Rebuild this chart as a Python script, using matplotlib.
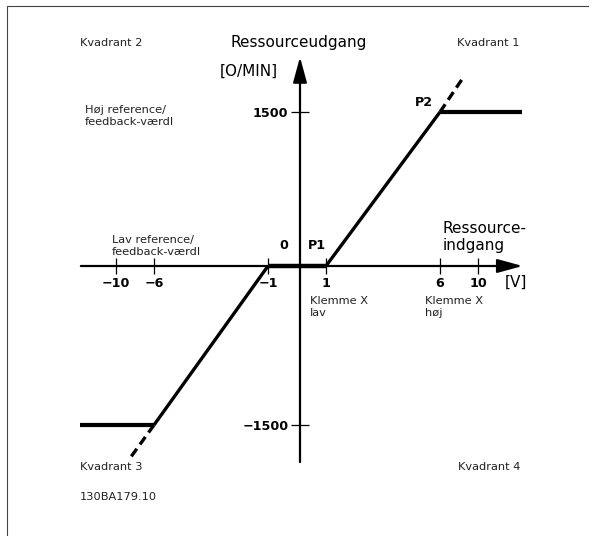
import numpy as np
import matplotlib

matplotlib.use("Agg")
import matplotlib.pyplot as plt
from matplotlib.lines import Line2D
from matplotlib.scale import FuncScale

# schematic (non-uniform) axes: value -> px from origin
X_VALUES = [-30, -10, -6, -1, 0, 1, 6, 10, 30]
X_PIXELS = [-374, -184, -146, -32, 0, 26, 140, 178, 368]
Y_VALUES = [-6000, -1500, 0, 1500, 6000]
Y_PIXELS = [-636, -159, 0, 154, 616]

# reference characteristic
slope_low_x = [-6, -1]
slope_low_y = [-1500, 0]
slope_high_x = [1, 6]
slope_high_y = [0, 1500]
dead_band_x = [-1, 1]
dead_band_y = [0, 0]
clamp_low_x = [-13.8, -6]
clamp_low_y = [-1500, -1500]
clamp_high_x = [6, 14.6]
clamp_high_y = [1500, 1500]
ext_low_x = [-6, -8.5]
ext_low_y = [-1500, -1810]
ext_high_x = [6, 8.4]
ext_high_y = [1500, 1830]

x_axis_range = [-13.7, 14.7]
y_axis_range = [-1850, 2035]
x_ticks = [-10, -6, -1, 1, 6, 10]
x_tick_labels = ["\u221210", "\u22126", "\u22121", "1", "6", "10"]
y_ticks = [-1500, 1500]
y_tick_labels = ["\u22121500", "1500"]

W, H = 597, 536
X0, Y0 = 300, 266  # origin in px


def _fx(v):
    return np.interp(v, X_VALUES, X_PIXELS)


def _ix(p):
    return np.interp(p, X_PIXELS, X_VALUES)


def _fy(v):
    return np.interp(v, Y_VALUES, Y_PIXELS)


def _iy(p):
    return np.interp(p, Y_PIXELS, Y_VALUES)


def px(x, y):
    return x / W, 1 - y / H


fig = plt.figure(figsize=(W / 100, H / 100), dpi=100)
ax = fig.add_axes([0, 0, 1, 1])
ax.set_xscale(FuncScale(ax.xaxis, (_fx, _ix)))
ax.set_yscale(FuncScale(ax.yaxis, (_fy, _iy)))
ax.set_xlim(_ix(-X0), _ix(W - X0))
ax.set_ylim(_iy(-(H - Y0)), _iy(Y0))

for name in ["top", "right"]:
    ax.spines[name].set_visible(False)
ax.spines["left"].set_position(("data", 0))
ax.spines["bottom"].set_position(("data", 0))
ax.spines["left"].set_color("none")
ax.spines["bottom"].set_color("none")

ax.set_xticks(x_ticks, x_tick_labels)
ax.set_yticks(y_ticks, y_tick_labels)
ax.xaxis.set_minor_locator(matplotlib.ticker.NullLocator())
ax.yaxis.set_minor_locator(matplotlib.ticker.NullLocator())
ax.tick_params(axis="x", direction="inout", length=12, width=0.9, pad=2, labelsize=9.2)
ax.tick_params(axis="y", direction="inout", length=13.5, width=0.9, pad=1.5, labelsize=9.2)
plt.setp(ax.get_xticklabels() + ax.get_yticklabels(), fontweight="bold")

# axes with arrow heads
arrow = dict(arrowstyle="-|>,head_length=1.1,head_width=0.3", lw=1.6, color="black",
             shrinkA=0, shrinkB=0, mutation_scale=14)
ax.annotate("", xy=(x_axis_range[1], 0), xytext=(x_axis_range[0], 0), arrowprops=arrow)
ax.annotate("", xy=(0, y_axis_range[1]), xytext=(0, y_axis_range[0]), arrowprops=arrow)

# characteristic
ax.plot(dead_band_x, dead_band_y, color="black", lw=3.2, solid_capstyle="butt")
ax.plot(slope_low_x, slope_low_y, color="black", lw=2.4, solid_capstyle="butt")
ax.plot(slope_high_x, slope_high_y, color="black", lw=2.4, solid_capstyle="butt")
ax.plot(clamp_low_x, clamp_low_y, color="black", lw=3.0, solid_capstyle="butt")
ax.plot(clamp_high_x, clamp_high_y, color="black", lw=3.0, solid_capstyle="butt")
ax.plot(ext_low_x, ext_low_y, color="black", lw=2.4, dashes=(2.8, 1.6))
ax.plot(ext_high_x, ext_high_y, color="black", lw=2.4, dashes=(2.8, 1.6))

small = dict(fontsize=8.2, color="#222222", va="center", ha="left", transform=ax.transAxes)
big = dict(fontsize=11, color="black", va="center", ha="left", transform=ax.transAxes)
bold = dict(fontsize=9.2, color="black", va="center", ha="left", fontweight="bold",
            transform=ax.transAxes)

ax.text(*px(80, 43), "Kvadrant 2", **small)
ax.text(*px(457, 43), "Kvadrant 1", **small)
ax.text(*px(80, 467), "Kvadrant 3", **small)
ax.text(*px(458, 467), "Kvadrant 4", **small)
ax.text(*px(80, 497), "130BA179.10", **small)
ax.text(*px(85, 116), "Høj reference/\nfeedback-værdl", linespacing=1.15, **small)
ax.text(*px(112, 246), "Lav reference/\nfeedback-værdl", linespacing=1.15, **small)
ax.text(*px(310, 307), "Klemme X\nlav", linespacing=1.15, **small)
ax.text(*px(425, 307), "Klemme X\nhøj", linespacing=1.15, **small)

ax.text(*px(230, 43), "Ressourceudgang", **big)
ax.text(*px(220, 71), "[O/MIN]", **big)
ax.text(*px(443, 237), "Ressource-\nindgang", linespacing=1.1, **big)
ax.text(*px(505, 282), "[V]", **big)

ax.text(*px(279, 246), "0", **bold)
ax.text(*px(308, 246), "P1", **bold)
ax.text(*px(415, 103), "P2", **bold)

# frame (only top and left edges visible in the crop)
fig.add_artist(Line2D([7 / W, 7 / W, 588 / W], [0, 1 - 6 / H, 1 - 6 / H],
                      transform=fig.transFigure, color="#444444", lw=0.8))

fig.savefig("out.png", dpi=100)
